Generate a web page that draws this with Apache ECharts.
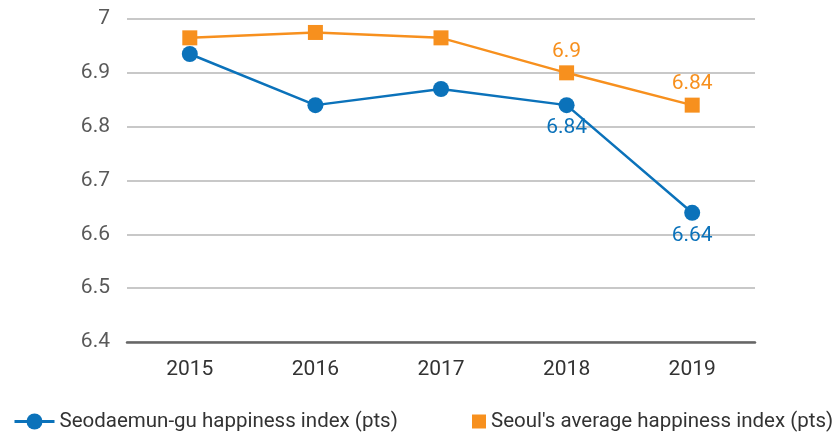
<!DOCTYPE html>
<html>
<head>
<meta charset="utf-8">
<script src="https://cdn.jsdelivr.net/npm/echarts@6/dist/echarts.min.js"></script>
<style>
html, body { margin: 0; padding: 0; background: #fff; }
#myEcharts { width: 834px; height: 433px; }
</style>
</head>
<body>
<div id="myEcharts"></div>
<script>
var years = ['2015', '2016', '2017', '2018', '2019']
var seodaemun = [6.935, 6.84, 6.87, 6.84, 6.64]
var seoulAvg = [6.965, 6.975, 6.965, 6.90, 6.84]
// which points carry a value label
var seodaemunLabeled = [false, false, false, true, true]
var seoulLabeled = [false, false, false, true, true]

var blue = '#0b72ba'
var orange = '#f7901e'
var font = 'Roboto'

var myChart = echarts.init(document.getElementById('myEcharts'))

function withLabels(values, flags) {
    return values.map(function (v, i) {
        return { value: v, label: { show: flags[i] } }
    })
}

myChart.setOption({
    animation: false,
    textStyle: { fontFamily: font },
    grid: {
        left: 127,
        right: 79,
        top: 19,
        bottom: 91
    },
    legend: [{
        left: 8,
        top: 406,
        itemWidth: 40,
        itemHeight: 20,
        lineStyle: { width: 3 },
        textStyle: { fontSize: 20.5, color: '#333', fontFamily: font },
        data: ['Seodaemun-gu happiness index (pts)']
    }, {
        left: 467,
        top: 406,
        icon: 'rect',
        itemWidth: 14,
        itemHeight: 14,
        textStyle: { fontSize: 20.5, color: '#333', fontFamily: font },
        data: ["Seoul's average happiness index (pts)"]
    }],
    xAxis: {
        type: 'category',
        data: years,
        boundaryGap: true,
        axisLine: { lineStyle: { color: '#666', width: 2.5 } },
        axisTick: { show: false },
        axisLabel: { fontSize: 21, color: '#333', margin: 17 }
    },
    yAxis: {
        type: 'value',
        min: 6.4,
        max: 7,
        interval: 0.1,
        axisLine: { show: false },
        axisTick: { show: false },
        axisLabel: { fontSize: 21, color: '#595959', margin: 17 },
        splitLine: { lineStyle: { color: '#c8c8c8', width: 2 } }
    },
    series: [{
        name: 'Seodaemun-gu happiness index (pts)',
        type: 'line',
        data: withLabels(seodaemun, seodaemunLabeled),
        symbol: 'circle',
        symbolSize: 16,
        itemStyle: { color: blue },
        lineStyle: { color: blue, width: 2.5 },
        label: {
            position: 'bottom',
            distance: 4,
            fontSize: 21,
            color: blue,
            fontFamily: font,
            formatter: function (p) { return p.value.toFixed(2) }
        },
        z: 3
    }, {
        name: "Seoul's average happiness index (pts)",
        type: 'line',
        data: withLabels(seoulAvg, seoulLabeled),
        symbol: 'rect',
        symbolSize: 15,
        itemStyle: { color: orange },
        lineStyle: { color: orange, width: 2.5 },
        label: {
            position: 'top',
            distance: 3,
            fontSize: 21,
            color: orange,
            fontFamily: font
        },
        z: 2
    }]
})
</script>
</body>
</html>
